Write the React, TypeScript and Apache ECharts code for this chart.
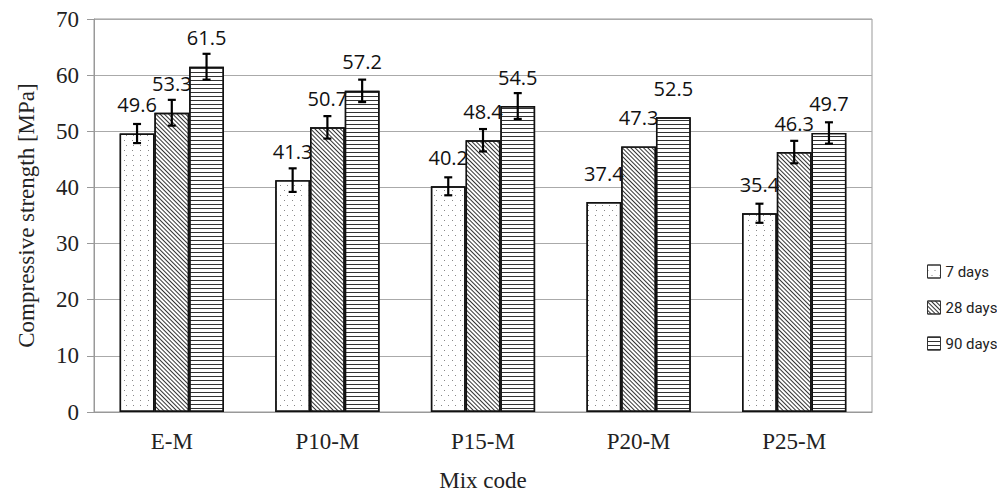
import React, { useEffect, useRef } from "react";
import * as echarts from "echarts";

const categories = ["E-M", "P10-M", "P15-M", "P20-M", "P25-M"];
const seriesNames = ["7 days", "28 days", "90 days"];
const days7 = [49.6, 41.3, 40.2, 37.4, 35.4];
const days28 = [53.3, 50.7, 48.4, 47.3, 46.3];
const days90 = [61.5, 57.2, 54.5, 52.5, 49.7];
const err7 = [1.7, 2.1, 1.6, 0, 1.7];
const err28 = [2.3, 2.0, 2.0, 0, 2.0];
const err90 = [2.3, 2.0, 2.3, 0, 1.9];
const yTicks = [0, 10, 20, 30, 40, 50, 60, 70];

export default function App() {
  const ref = useRef<HTMLDivElement>(null);
  useEffect(() => {
    const chart = echarts.init(ref.current!, null, { renderer: "svg" });
    const values = [days7, days28, days90];
    const errs = [err7, err28, err90];
    const errData: number[][] = [];
    values.forEach((vals, s) => {
      vals.forEach((v, i) => {
        if (errs[s][i] > 0) errData.push([i, s, v - errs[s][i], v + errs[s][i]]);
      });
    });
    const decals: any[] = [
      {
        symbol: "rect",
        symbolSize: 1,
        dashArrayX: [[1, 6], [0, 3.5, 1, 2.5]],
        dashArrayY: [1, 4],
        color: "#888",
        backgroundColor: "#fff",
      },
      {
        symbol: "rect",
        symbolSize: 1,
        dashArrayX: [[1, 0]],
        dashArrayY: [1, 1.8],
        rotation: Math.PI / 4,
        color: "#333",
        backgroundColor: "#fff",
      },
      {
        symbol: "rect",
        symbolSize: 1,
        dashArrayX: [[1, 0]],
        dashArrayY: [1, 2.3],
        rotation: 0,
        color: "#333",
        backgroundColor: "#fff",
      },
    ];
    const barSeries = values.map((vals, s) => ({
      type: "bar",
      name: seriesNames[s],
      data: vals,
      barGap: "0%",
      barCategoryGap: "33%",
      itemStyle: {
        color: "#fff",
        borderColor: "#111",
        borderWidth: 1.4,
        decal: decals[s],
      },
      label: {
        show: true,
        position: "top",
        distance: 19,
        fontFamily: "Open Sans",
        fontSize: 20,
        color: "#111",
        formatter: (p: any) => p.value.toFixed(1),
      },
    }));
    chart.setOption({
      animation: false,
      aria: { enabled: false, decal: { show: true } },
      grid: { left: 94, right: 125, top: 19, bottom: 85, show: true, borderColor: "#999", borderWidth: 1 },
      legend: {
        orient: "vertical",
        left: 922,
        top: 259,
        icon: "rect",
        itemWidth: 13,
        itemHeight: 13,
        itemGap: 21,
        textStyle: {
          fontFamily: "Roboto",
          fontSize: 15,
          color: "#222",
        },
        data: seriesNames.map((n) => ({ name: n, itemStyle: { borderWidth: 1, borderColor: "#333" } })),
      },
      xAxis: {
        type: "category",
        data: categories,
        name: "Mix code",
        nameLocation: "middle",
        nameGap: 57,
        nameTextStyle: { fontFamily: "Liberation Serif", fontSize: 23, color: "#222" },
        axisLine: { lineStyle: { color: "#999" } },
        axisTick: { show: false },
        axisLabel: { fontFamily: "Liberation Serif", fontSize: 23, color: "#222", margin: 18 },
      },
      yAxis: {
        type: "value",
        min: 0,
        max: 70,
        interval: 10,
        name: "Compressive strength [MPa]",
        nameLocation: "middle",
        nameGap: 56,
        nameTextStyle: { fontFamily: "Liberation Serif", fontSize: 23, color: "#222" },
        axisLine: { show: true, lineStyle: { color: "#999" } },
        axisTick: { show: true, length: 7, lineStyle: { color: "#999" } },
        splitLine: { lineStyle: { color: "#aaa" } },
        axisLabel: {
          fontFamily: "Liberation Serif",
          fontSize: 23,
          color: "#222",
          margin: 15,
          formatter: (v: number) => (yTicks.includes(v) ? String(v) : ""),
        },
      },
      series: [
        ...barSeries,
        {
          type: "custom",
          name: "err",
          data: errData,
          z: 10,
          encode: { x: 0, y: [2, 3] },
          renderItem: (params: any, api: any) => {
            const cat = api.value(0);
            const s = api.value(1);
            const catW = api.size([1, 0])[0];
            const bw = (catW * 0.67) / 3;
            const cx = api.coord([cat, 0])[0] + (s - 1) * bw;
            const lo = api.coord([cat, api.value(2)])[1];
            const hi = api.coord([cat, api.value(3)])[1];
            const cap = 4;
            const st = { stroke: "#000", lineWidth: 2.2 };
            return {
              type: "group",
              children: [
                { type: "line", shape: { x1: cx, y1: lo, x2: cx, y2: hi }, style: st },
                { type: "line", shape: { x1: cx - cap, y1: lo, x2: cx + cap, y2: lo }, style: st },
                { type: "line", shape: { x1: cx - cap, y1: hi, x2: cx + cap, y2: hi }, style: st },
              ],
            };
          },
        },
      ],
    });
    return () => chart.dispose();
  }, []);
  return (
    <div
      ref={ref}
      style={{ position: "fixed", left: 0, top: 0, width: 997, height: 497, background: "#fff" }}
    />
  );
}
